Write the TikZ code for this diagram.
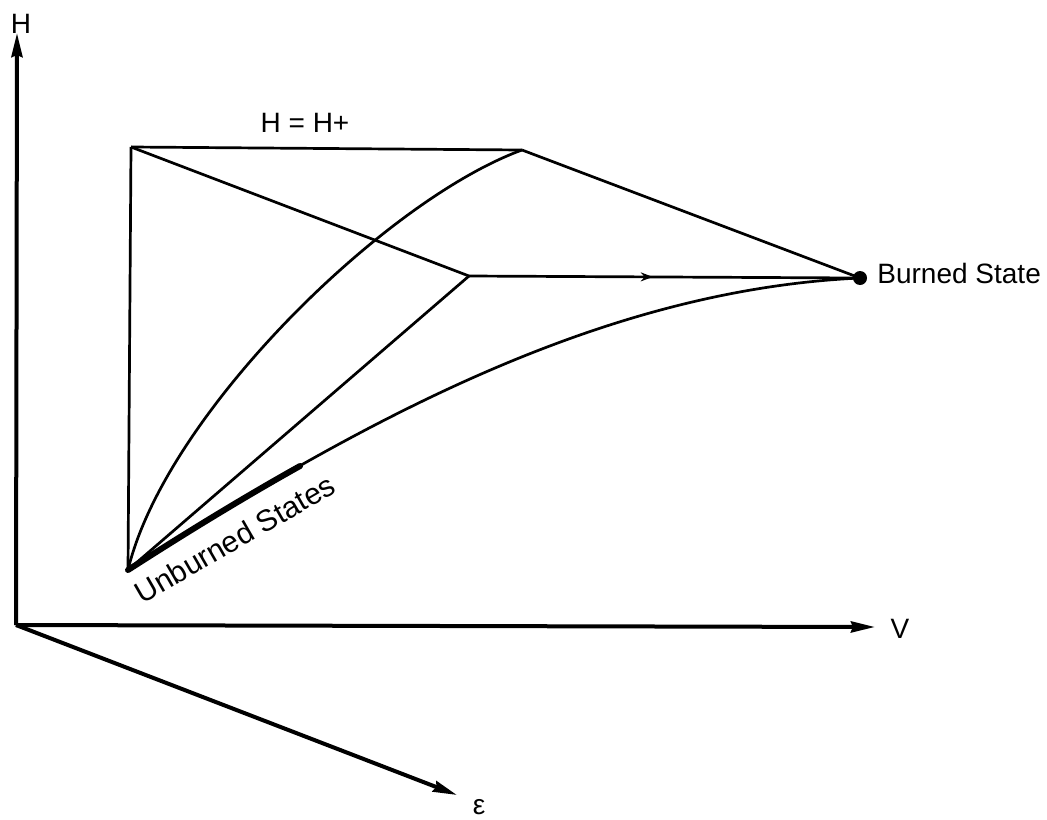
\documentclass[tikz,border=0pt]{standalone}
\usepackage{fontspec}
\setmainfont{Liberation Sans}
\usetikzlibrary{arrows.meta,decorations.markings}
\begin{document}
\begin{tikzpicture}[x=0.5pt,y=-0.5pt,line join=round,
  axis/.style={line width=2pt,-{Stealth[length=12pt,width=5.5pt,inset=1pt]}},
  curve/.style={line width=1.35pt},
  thickseg/.style={line width=3pt,line cap=round},
  midarrow/.style={postaction={decorate},decoration={markings,
     mark=at position 0.47 with {\arrow{Stealth[length=6pt,width=4.5pt]}}}},
  lbl/.style={font=\fontsize{14}{17}\selectfont, inner sep=0pt}]
\useasboundingbox (0,0) rectangle (1047,819);
% axes
\coordinate (O) at (16,625);
\coordinate (Htop) at (17,33);
\coordinate (Vend) at (875,627);
\coordinate (Eend) at (457,795);
\draw[axis] (O) -- (Htop);
\draw[axis] (O) -- (Vend);
\draw[axis] (O) -- (Eend);
\node[lbl,anchor=base] (Hlab) at (21,33) {H};
\node[lbl,anchor=base] (Vlab) at (900,638) {V};
\node[lbl,anchor=base] (Elab) at (479,814) {ε};
% points
\coordinate (A) at (131,147);
\coordinate (B) at (522,150);
\coordinate (D) at (469,276);
\coordinate (U) at (128,570);
\node[circle,fill,inner sep=0pt,minimum size=7pt] (C) at (860,278) {};
% straight lines
\draw[curve] (A) -- (B);
\draw[curve] (B) -- (C.center);
\draw[curve] (A) -- (D);
\draw[curve,midarrow] (D) -- (C.center);
\draw[curve] (A) -- (U);
\draw[curve] (U) -- (D);
% curves
\draw[curve] (U) .. controls (165,415) and (385,200) .. (B);
\draw[curve] (U) .. controls (360,422) and (600,290) .. (C.center);
\draw[thickseg] (U) .. controls (184,534) and (241,499) .. (300,466);
% labels
\node[lbl,anchor=base] (HH) at (305,132) {H = H+};
\node[lbl,anchor=base west] (BS) at (877,283) {Burned State};
\node[lbl,font=\fontsize{15}{18}\selectfont,anchor=base,rotate=30] (US) at (240,548) {Unburned States};
\end{tikzpicture}
\end{document}
